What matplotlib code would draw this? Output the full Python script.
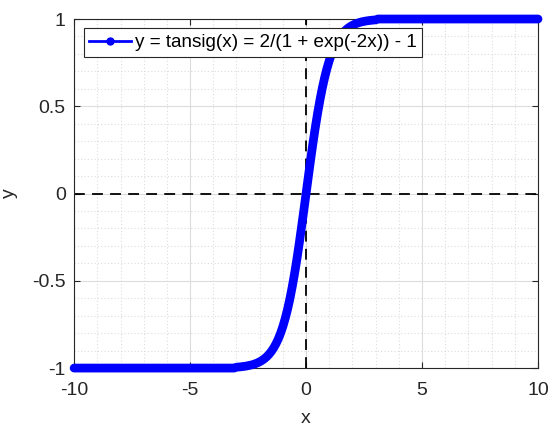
import numpy as np
import matplotlib.pyplot as plt
from matplotlib.lines import Line2D
from matplotlib.ticker import MultipleLocator

plt.rcParams['font.family'] = ['Liberation Sans', 'DejaVu Sans']

# x de -10 a 10, paso 0.1
x = np.round(np.arange(-100, 101) / 10, 1)

y_mid_pos = [0.0, 0.0997, 0.1974, 0.2913, 0.3799, 0.4621, 0.5370, 0.6044, 0.6640,
             0.7163, 0.7616, 0.8005, 0.8337, 0.8617, 0.8854, 0.9051, 0.9217, 0.9354,
             0.9468, 0.9562, 0.9640, 0.9705, 0.9757, 0.9801, 0.9837, 0.9866, 0.9890,
             0.9910, 0.9926, 0.9940, 0.9951]
y_tail_neg = [-1.0] * 70
y_tail_pos = [1.0] * 70
y = y_tail_neg + [-v for v in y_mid_pos[:0:-1]] + y_mid_pos + y_tail_pos

xticks = [-10, -5, 0, 5, 10]
xticklabels = ['-10', '-5', '0', '5', '10']
yticks = [-1, -0.5, 0, 0.5, 1]
yticklabels = ['-1', '-0.5', '0', '0.5', '1']
label = 'y = tansig(x) = 2/(1 + exp(-2x)) - 1'

fig = plt.figure(figsize=(5.49, 4.32), dpi=100)
ax = fig.add_axes([0.135, 0.148, 0.845, 0.808])

axcol = '#262626'

# lineas punteadas en los ejes
ax.axhline(0, color='black', linewidth=1.3, linestyle=(0, (6, 4)), zorder=2)
ax.axvline(0, color='black', linewidth=1.3, linestyle=(0, (6, 4)), zorder=2)

# curva
ax.plot(x, y, color='blue', linewidth=6.3, solid_capstyle='round',
        solid_joinstyle='round', zorder=3, clip_on=False)

ax.set_xlim(-10, 10)
ax.set_ylim(-1, 1)
ax.set_xticks(xticks)
ax.set_xticklabels(xticklabels)
ax.set_yticks(yticks)
ax.set_yticklabels(yticklabels)
ax.xaxis.set_minor_locator(MultipleLocator(1))
ax.yaxis.set_minor_locator(MultipleLocator(0.1))

ax.grid(True, which='major', color='#dcdcdc', linewidth=0.8, linestyle='-', zorder=0)
ax.grid(True, which='minor', color='#dcdcdc', linewidth=0.8, linestyle=(0, (1, 2)), zorder=0)
ax.set_axisbelow(True)

ax.tick_params(which='major', direction='in', length=4, width=0.8, color=axcol,
               labelsize=14, labelcolor=axcol, top=True, right=True)
ax.tick_params(axis='x', which='major', pad=10)
ax.tick_params(axis='y', which='major', pad=6)
ax.tick_params(which='minor', length=0)
for s in ax.spines.values():
    s.set_color(axcol)
    s.set_linewidth(0.8)

ax.set_xlabel('x', fontsize=14, color=axcol, labelpad=8)
ax.set_ylabel('y', fontsize=14, color=axcol, labelpad=10)

# leyenda
handle = Line2D([], [], color='blue', linewidth=2, marker='.', markersize=10)
leg = ax.legend([handle], [label], loc='upper left', bbox_to_anchor=(0.0, 1.0),
                borderaxespad=0.5, fontsize=13.6, fancybox=False, framealpha=1,
                edgecolor=axcol, handlelength=2.2, handletextpad=0.2,
                borderpad=0.3)
leg.get_frame().set_linewidth(0.8)
leg.set_zorder(5)

fig.savefig('out.png', dpi=100)
